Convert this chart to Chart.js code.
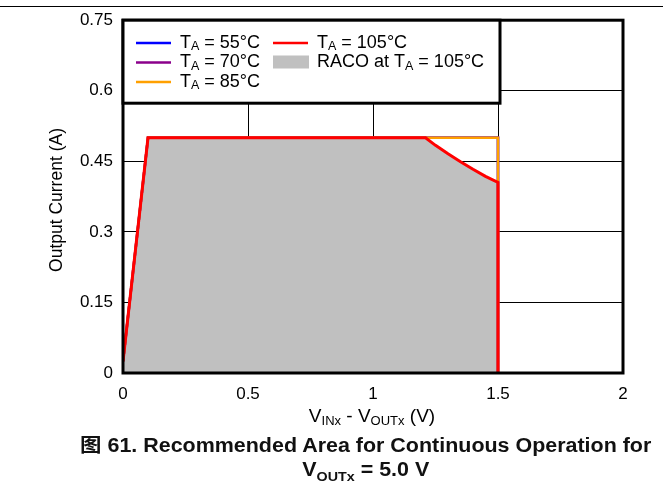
<!DOCTYPE html>
<html>
<head>
<meta charset="utf-8">
<script src="https://cdn.jsdelivr.net/npm/chart.js@4"></script>
<style>
  body { margin: 0; background: #fff; }
  #wrap { position: relative; width: 663px; height: 493px; }
  #rule { position: absolute; left: 0; top: 6px; width: 663px; height: 0; border-top: 1.5px solid #000; }
  #raco { position: absolute; left: 0; top: 0; }
  .cap { position: absolute; left: 0; width: 732px; text-align: center; line-height: 20px;
         font-family: "Liberation Sans", Arial, "Noto Sans CJK SC", sans-serif;
         font-weight: bold; font-size: 19.5px; color: #111; white-space: nowrap; }
  .cap span.in { display: inline-block; transform: scaleX(1.1); transform-origin: center; }
  .cap sub { font-size: 13px; vertical-align: -5px; line-height: 0; }
  .cjk { font-family: "Noto Sans CJK SC", sans-serif; }
</style>
</head>
<body>
<div id="wrap">
  <canvas id="raco" width="663" height="493"></canvas>
  <div id="rule"></div>
  <div class="cap" style="top:434px;"><span class="in"><span class="cjk">图</span> 61. Recommended Area for Continuous Operation for</span></div>
  <div class="cap" style="top:459px;"><span class="in">V<sub>OUTx</sub> = 5.0 V</span></div>
</div>
<script>
'use strict';

// dropout voltage (V) and output current (A) for each ambient temperature
var vdrop55 = [0, 0.1, 1.5, 1.5];
var current55 = [0.025, 0.5, 0.5, 0];
var vdrop70 = [0, 0.1, 1.5, 1.5];
var current70 = [0.025, 0.5, 0.5, 0];
var vdrop85 = [0, 0.1, 1.5, 1.5];
var current85 = [0.025, 0.5, 0.5, 0];
var vdrop105 = [0, 0.1, 1.21, 1.25, 1.3, 1.35, 1.4, 1.45, 1.5, 1.5];
var current105 = [0.025, 0.5, 0.5, 0.484, 0.466, 0.449, 0.433, 0.418, 0.405, 0];

var xTicks = [0, 0.5, 1, 1.5, 2];
var yTicks = [0, 0.15, 0.3, 0.45, 0.6, 0.75];

var FONT = '"Liberation Sans", Arial, sans-serif';

function toPoints(xs, ys) {
  var pts = [];
  for (var i = 0; i < xs.length; i++) {
    pts.push({ x: xs[i], y: ys[i] });
  }
  return pts;
}

// draws text made of [string, isSubscript] pieces
function drawRich(ctx, parts, x, y, size, subSize, drop, align) {
  var total = 0;
  parts.forEach(function (p) {
    ctx.font = (p[1] ? subSize : size) + 'px ' + FONT;
    total += ctx.measureText(p[0]).width;
  });
  var cx = align === 'center' ? x - total / 2 : x;
  ctx.textAlign = 'left';
  ctx.textBaseline = 'alphabetic';
  parts.forEach(function (p) {
    ctx.font = (p[1] ? subSize : size) + 'px ' + FONT;
    ctx.fillText(p[0], cx, p[1] ? y + drop : y);
    cx += ctx.measureText(p[0]).width;
  });
}

var legendItems = [
  { label: [['T', false], ['A', true], [' = 55°C', false]], color: '#0000ff', col: 0, row: 0 },
  { label: [['T', false], ['A', true], [' = 70°C', false]], color: '#8b008b', col: 0, row: 1 },
  { label: [['T', false], ['A', true], [' = 85°C', false]], color: '#ffa000', col: 0, row: 2 },
  { label: [['T', false], ['A', true], [' = 105°C', false]], color: '#ff0000', col: 1, row: 0 },
  { label: [['RACO at T', false], ['A', true], [' = 105°C', false]], color: '#c0c0c0', col: 1, row: 1, box: true }
];

var decorations = {
  id: 'decorations',
  afterDatasetsDraw: function (chart) {
    var ctx = chart.ctx;
    var a = chart.chartArea;
    ctx.save();

    // plot frame
    ctx.strokeStyle = '#000';
    ctx.lineWidth = 3;
    ctx.strokeRect(a.left, a.top, a.right - a.left, a.bottom - a.top);

    // legend box
    var lx = a.left, ly = a.top, lw = 377, lh = 83;
    ctx.fillStyle = '#fff';
    ctx.fillRect(lx, ly, lw, lh);
    ctx.strokeRect(lx, ly, lw, lh);

    var colX = [136, 273];
    legendItems.forEach(function (it) {
      var x0 = colX[it.col];
      var yc = 43 + it.row * 19.5;
      if (it.box) {
        ctx.fillStyle = it.color;
        ctx.fillRect(x0, yc - 7, 36, 13);
      } else {
        ctx.strokeStyle = it.color;
        ctx.lineWidth = 2.5;
        ctx.beginPath();
        ctx.moveTo(x0, yc);
        ctx.lineTo(x0 + 35, yc);
        ctx.stroke();
      }
      ctx.fillStyle = '#000';
      drawRich(ctx, it.label, x0 + 44, yc + 4.5, 18, 12.5, 2.8, 'left');
    });

    // axis titles
    ctx.fillStyle = '#000';
    drawRich(ctx, [['V', false], ['INx', true], [' - V', false], ['OUTx', true], [' (V)', false]],
      372, 422, 19, 13, 3, 'center');

    ctx.translate(57, 200);
    ctx.rotate(-Math.PI / 2);
    ctx.font = '17.5px ' + FONT;
    ctx.textAlign = 'center';
    ctx.textBaseline = 'middle';
    ctx.fillText('Output Current (A)', 0, 0);
    ctx.restore();
  }
};

function lineSet(label, xs, ys, color, width, order) {
  return {
    label: label,
    data: toPoints(xs, ys),
    showLine: true,
    borderColor: color,
    borderWidth: width,
    pointRadius: 0,
    fill: false,
    tension: 0,
    order: order
  };
}

var ctx = document.getElementById('raco').getContext('2d');
var chart = new Chart(ctx, {
  type: 'scatter',
  data: {
    datasets: [
      {
        label: 'RACO at TA = 105°C',
        data: toPoints(vdrop105, current105),
        showLine: true,
        borderWidth: 0,
        borderColor: 'rgba(0,0,0,0)',
        backgroundColor: '#c0c0c0',
        pointRadius: 0,
        fill: 'origin',
        order: 10
      },
      lineSet('TA = 55°C', vdrop55, current55, '#0000ff', 2.5, 4),
      lineSet('TA = 70°C', vdrop70, current70, '#8b008b', 2.5, 3),
      lineSet('TA = 85°C', vdrop85, current85, '#ffa000', 2.5, 2),
      lineSet('TA = 105°C', vdrop105, current105, '#ff0000', 3, 1)
    ]
  },
  plugins: [decorations],
  options: {
    responsive: false,
    animation: false,
    layout: { padding: { top: 19, right: 40, left: 0, bottom: 0 } },
    plugins: {
      legend: { display: false },
      tooltip: { enabled: false }
    },
    scales: {
      x: {
        type: 'linear',
        min: 0,
        max: 2,
        afterBuildTicks: function (scale) {
          scale.ticks = xTicks.map(function (v) { return { value: v }; });
        },
        afterFit: function (scale) { scale.height = 120; },
        grid: { color: '#000', lineWidth: 1, drawTicks: false },
        border: { display: false },
        ticks: {
          padding: 11,
          color: '#000',
          font: { family: FONT, size: 17 },
          callback: function (v) { return String(Number(v.toFixed(2))); }
        }
      },
      y: {
        type: 'linear',
        min: 0,
        max: 0.75,
        afterBuildTicks: function (scale) {
          scale.ticks = yTicks.map(function (v) { return { value: v }; });
        },
        afterFit: function (scale) { scale.width = 123; },
        grid: { color: '#000', lineWidth: 1, drawTicks: false },
        border: { display: false },
        ticks: {
          padding: 10,
          color: '#000',
          font: { family: FONT, size: 17 },
          callback: function (v) { return String(Number(v.toFixed(2))); }
        }
      }
    }
  }
});
</script>
</body>
</html>
